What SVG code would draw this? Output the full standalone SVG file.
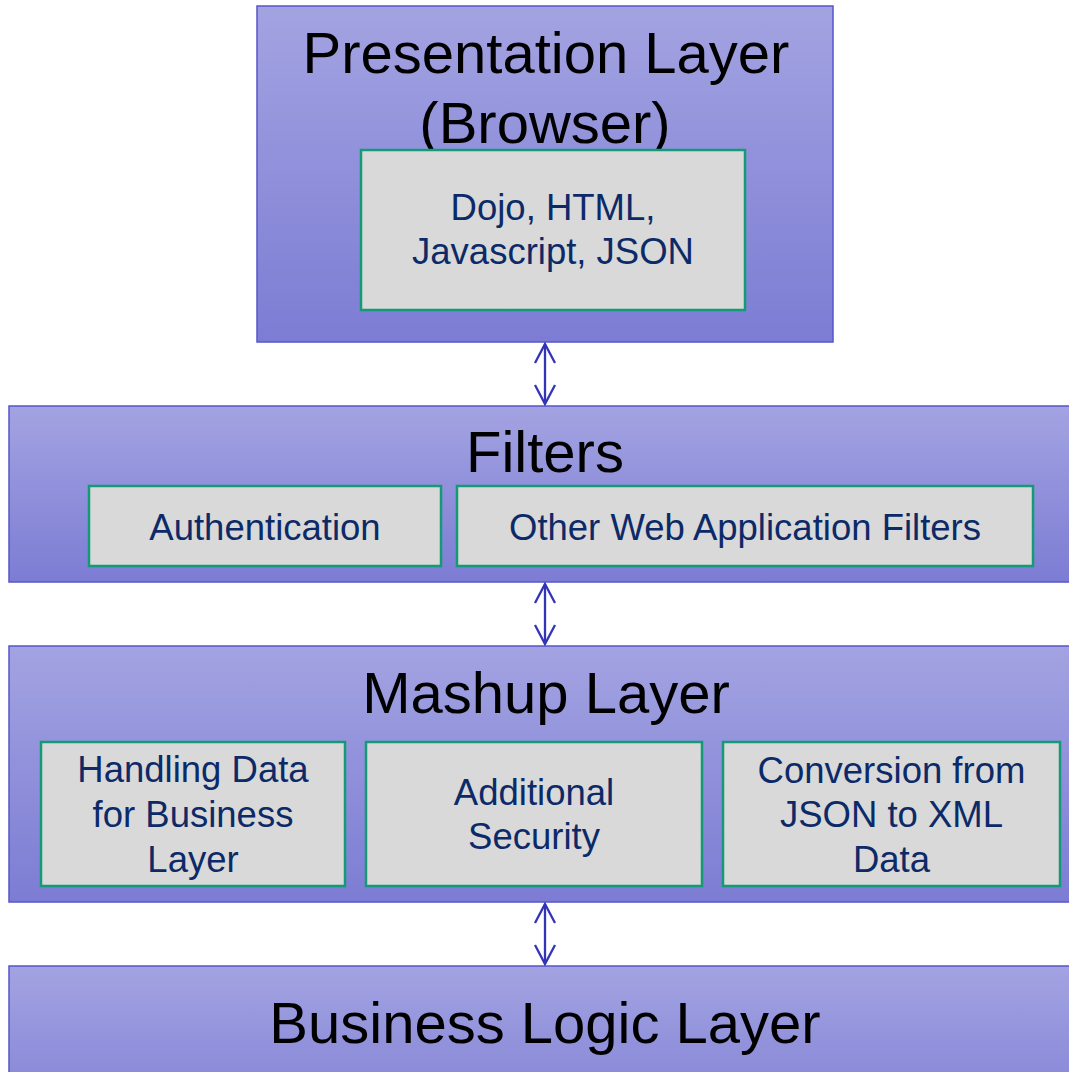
<svg xmlns="http://www.w3.org/2000/svg" width="1069" height="1072" viewBox="0 0 1069 1072">
<defs>
<linearGradient id="layerGrad" x1="0" y1="0" x2="0" y2="1">
<stop offset="0" stop-color="#a3a3e2"/>
<stop offset="1" stop-color="#7c7cd4"/>
</linearGradient>
<marker id="openHead" viewBox="0 0 24 24" refX="20" refY="12" markerWidth="24" markerHeight="24" markerUnits="userSpaceOnUse" orient="auto-start-reverse">
<path d="M1,2 L20,12 L1,22" fill="none" stroke="#3434b8" stroke-width="2.3"/>
</marker>
</defs>
<style>
.layer{fill:url(#layerGrad);stroke:#5656cc;stroke-width:1.5}
.inner{fill:#d9d9d9;stroke:#149a76;stroke-width:2.5}
.title{font-family:"Liberation Sans",Arial,sans-serif;font-size:58px;fill:#000;text-anchor:middle}
.label{font-family:"Liberation Sans",Arial,sans-serif;font-size:36.5px;fill:#0c2a68;text-anchor:middle}
.conn{stroke:#3434b8;stroke-width:2.3;fill:none;marker-start:url(#openHead);marker-end:url(#openHead)}
</style>
<rect width="1069" height="1072" fill="#ffffff"/>

<g id="presentation-layer">
<rect class="layer" x="257" y="6" width="576" height="336"/>
<text class="title" x="546" y="72.5">Presentation Layer</text>
<text class="title" x="545" y="142.5">(Browser)</text>
</g>
<g id="dojo-html">
<rect class="inner" x="361" y="150" width="384" height="160"/>
<text class="label" x="553" y="220">Dojo, HTML,</text>
<text class="label" x="553" y="264">Javascript, JSON</text>
</g>

<g id="filters">
<rect class="layer" x="9" y="406" width="1075" height="176"/>
<text class="title" x="545" y="472">Filters</text>
</g>
<g id="authentication">
<rect class="inner" x="89" y="486" width="352" height="80"/>
<text class="label" x="265" y="540">Authentication</text>
</g>
<g id="other-filters">
<rect class="inner" x="457" y="486" width="576" height="80"/>
<text class="label" x="745" y="540">Other Web Application Filters</text>
</g>

<g id="mashup-layer">
<rect class="layer" x="9" y="646" width="1075" height="256"/>
<text class="title" x="546" y="713">Mashup Layer</text>
</g>
<g id="handling-data">
<rect class="inner" x="41" y="742" width="304" height="144"/>
<text class="label" x="193" y="782">Handling Data</text>
<text class="label" x="193" y="827">for Business</text>
<text class="label" x="193" y="872">Layer</text>
</g>
<g id="additional-security">
<rect class="inner" x="366" y="742" width="336" height="144"/>
<text class="label" x="534" y="805">Additional</text>
<text class="label" x="534" y="849">Security</text>
</g>
<g id="conversion">
<rect class="inner" x="723" y="742" width="337" height="144"/>
<text class="label" x="891.5" y="783">Conversion from</text>
<text class="label" x="891.5" y="827">JSON to XML</text>
<text class="label" x="891.5" y="872">Data</text>
</g>

<g id="business-logic-layer">
<rect class="layer" x="9" y="966" width="1075" height="176"/>
<text class="title" x="545" y="1043">Business Logic Layer</text>
</g>

<g id="connectors">
<line class="conn" x1="545" y1="344" x2="545" y2="404"/>
<line class="conn" x1="545" y1="584" x2="545" y2="644"/>
<line class="conn" x1="545" y1="904" x2="545" y2="964"/>
</g>
</svg>
